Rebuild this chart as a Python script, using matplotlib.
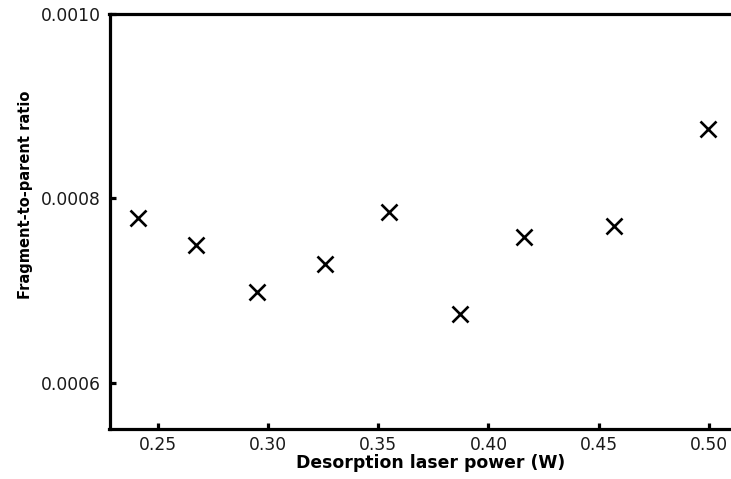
import matplotlib
matplotlib.use("Agg")
import matplotlib.pyplot as plt
from matplotlib.ticker import FormatStrFormatter

plt.rcParams['font.family'] = ['DejaVu Sans']

power = [0.241, 0.2674, 0.2949, 0.326, 0.3549, 0.387, 0.416, 0.4568, 0.4996]
ratio = [0.000778, 0.0007495, 0.000698, 0.0007287, 0.000785, 0.000675, 0.000758, 0.00077, 0.000875]
xticks = [0.25, 0.30, 0.35, 0.40, 0.45, 0.50]
yticks = [0.0006, 0.0008, 0.0010]

W, H = 731, 479
fig = plt.figure(figsize=(W / 100, H / 100), dpi=100)
left_px, right_px, top_px, bot_px = 109.5, 753.2, 13.5, 429
ax = fig.add_axes([left_px / W, (H - bot_px) / H, (right_px - left_px) / W, (bot_px - top_px) / H])

ax.plot(power, ratio, linestyle='none', marker='x', markersize=11, markeredgewidth=1.9, color='black')

ax.set_xlim(0.2282, 0.52)
ax.set_ylim(0.00055, 0.0010)
ax.set_xticks(xticks)
ax.set_yticks(yticks)
ax.xaxis.set_major_formatter(FormatStrFormatter('%.2f'))
ax.yaxis.set_major_formatter(FormatStrFormatter('%.4f'))

for s in ['left', 'bottom', 'top']:
    ax.spines[s].set_linewidth(2.3)
ax.spines['right'].set_visible(False)
ax.tick_params(direction='in', length=4, width=2.3, labelsize=12.3, colors='black', labelcolor='#1a1a1a')
ax.tick_params(axis='x', pad=5)
ax.tick_params(axis='y', pad=6.5)

ax.set_xlabel('Desorption laser power (W)', fontsize=12.4, fontweight='bold')
ax.set_ylabel('Fragment-to-parent ratio', fontsize=10.5, fontweight='bold')
ax.xaxis.set_label_coords(0.4995, -0.061)
ax.yaxis.set_label_coords(-0.119, 0.563)
ax.xaxis.label.set_va('top')

fig.savefig('out.png', dpi=100)
